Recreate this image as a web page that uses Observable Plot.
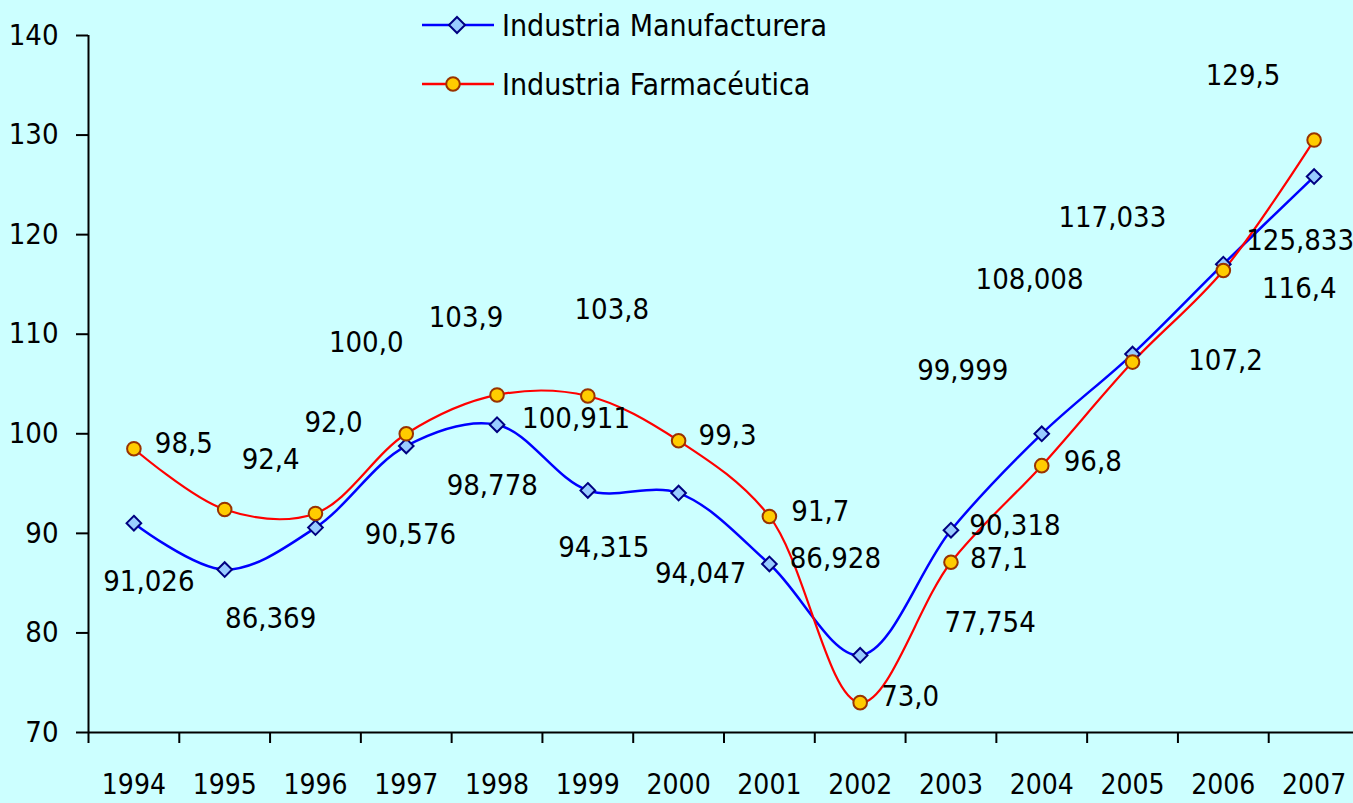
<!DOCTYPE html>
<html><head><meta charset="utf-8">
<script src="https://cdn.jsdelivr.net/npm/d3@7"></script>
<script src="https://cdn.jsdelivr.net/npm/@observablehq/plot@0.6"></script>
<style>
html,body{margin:0;padding:0;background:#CCFFFF;overflow:hidden}
#wrap{position:relative;width:1353px;height:803px}
.leg{position:absolute;display:flex;align-items:center;height:30px;font-family:"DejaVu Sans Condensed","Noto Sans",sans-serif;font-size:30px;color:#000;white-space:nowrap}
.leg svg{margin-right:8px}
</style></head><body><div id="wrap"></div>
<script>
const years = [1994,1995,1996,1997,1998,1999,2000,2001,2002,2003,2004,2005,2006,2007];
const manufacturera = [91.026,86.369,90.576,98.778,100.911,94.315,94.047,86.928,77.754,90.318,99.999,108.008,117.033,125.833];
const farmaceutica = [98.5,92.4,92.0,100.0,103.9,103.8,99.3,91.7,73.0,87.1,96.8,107.2,116.4,129.5];
const seriesNames = ["Industria Manufacturera","Industria Farmacéutica"];
const yTicks = [70,80,90,100,110,120,130,140];

// label offsets (px) relative to each point, as placed in the original
const manufOffsets = [[15,59],[46,49],[95,7],[86,40],[79,-6],[16,57],[22,81],[66,-5],[130,-33],[64,-4],[-79,-63],[-103,-74],[-111,-46],[-14,64]];
const pharmaOffsets = [[50,-5],[46,-50],[18,-91],[-40,-91],[-31,-77],[24,-86],[49,-5],[51,-5],[50,-6],[48,-4],[51,-4],[93,-1],[76,18],[-71,-64]];

const FONT = '"DejaVu Sans Condensed","Noto Sans",sans-serif';
const FS = 29;
const fmt = (v, d) => v.toFixed(d).replace(".", ",");

const manufData = years.map((y, i) => ({year: y, value: manufacturera[i], label: fmt(manufacturera[i], 3), off: manufOffsets[i]}));
const pharmaData = years.map((y, i) => ({year: y, value: farmaceutica[i], label: fmt(farmaceutica[i], 1), off: pharmaOffsets[i]}));

const labelMarks = [...manufData, ...pharmaData].map(d =>
  Plot.text([d], {x: "year", y: "value", text: "label", dx: d.off[0], dy: d.off[1],
    fontSize: FS, fill: "#000", textAnchor: "middle", lineAnchor: "middle"}));

const chart = Plot.plot({
  width: 1353,
  height: 803,
  marginLeft: 88,
  marginTop: 35,
  marginBottom: 71,
  marginRight: 0,
  style: {background: "#CCFFFF", fontFamily: FONT, overflow: "visible", color: "#000"},
  x: {type: "linear", domain: [1993.5, 2007.5], range: [88, 1359]},
  y: {domain: [70, 140], range: [732, 35]},
  marks: [
    Plot.axisY({ticks: yTicks, tickSize: 12, tickPadding: 18, fontSize: FS, strokeWidth: 2, tickFormat: d => String(d), label: null}),
    Plot.axisX({ticks: d3.range(1993.5, 2008, 1), tickSize: 11, strokeWidth: 2, tickFormat: () => "", label: null}),
    Plot.axisX({ticks: years, tickSize: 0, tickPadding: 42, fontSize: 28, tickFormat: d => String(d), label: null}),
    Plot.ruleX([1993.5], {y1: 70, y2: 140, stroke: "#000", strokeWidth: 2}),
    Plot.ruleY([70], {x1: 1993.5, x2: 2007.5, stroke: "#000", strokeWidth: 2}),
    Plot.line(manufData, {x: "year", y: "value", stroke: "#0000FF", strokeWidth: 2.5, curve: "catmull-rom"}),
    Plot.line(pharmaData, {x: "year", y: "value", stroke: "#FF0000", strokeWidth: 2.2, curve: "catmull-rom"}),
    Plot.dot(manufData, {x: "year", y: "value", symbol: "diamond2", r: 6.6, fill: "#99CCFF", stroke: "#000080", strokeWidth: 2}),
    Plot.dot(pharmaData, {x: "year", y: "value", symbol: "circle", r: 6.8, fill: "#FFCC00", stroke: "#993300", strokeWidth: 2}),
    ...labelMarks
  ]
});

const wrap = document.getElementById("wrap");
wrap.appendChild(chart);

function legendItem(name, top, color, kind) {
  const div = document.createElement("div");
  div.className = "leg";
  div.style.left = "422px";
  div.style.top = (top - 15) + "px";
  const marker = kind === "diamond"
    ? `<path d="M35,2 L43,10 L35,18 L27,10 Z" fill="#99CCFF" stroke="#000080" stroke-width="2"/>`
    : `<circle cx="31" cy="10" r="6.8" fill="#FFCC00" stroke="#993300" stroke-width="2"/>`;
  div.innerHTML = `<svg width="72" height="20"><line x1="0" y1="10" x2="72" y2="10" stroke="${color}" stroke-width="2.5"/>${marker}</svg><span>${name}</span>`;
  wrap.appendChild(div);
}
legendItem(seriesNames[0], 25, "#0000FF", "diamond");
legendItem(seriesNames[1], 84, "#FF0000", "circle");
</script>
</body></html>
